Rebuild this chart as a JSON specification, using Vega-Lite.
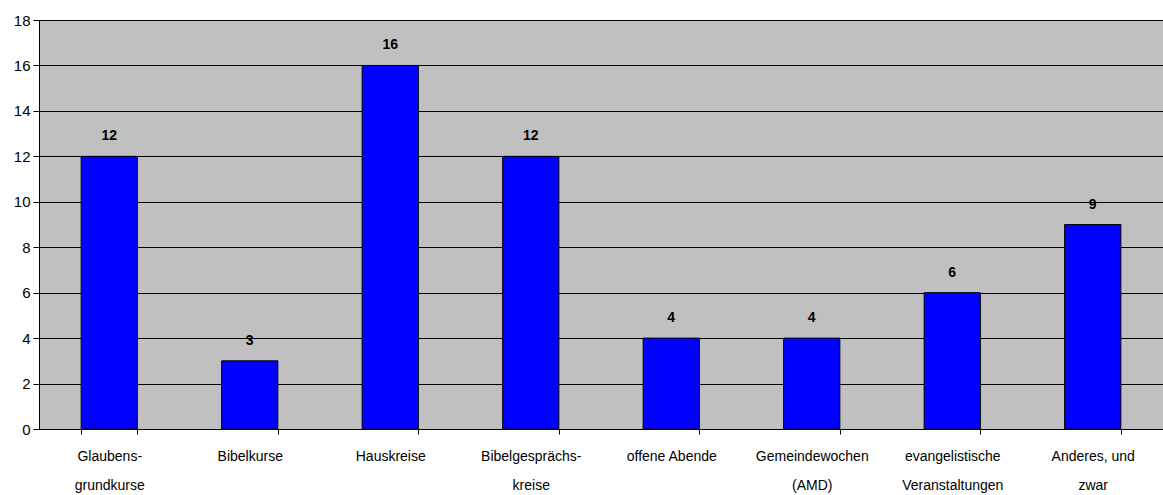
{
  "$schema": "https://vega.github.io/schema/vega-lite/v6.json",
  "width": 1124,
  "height": 409,
  "autosize": {"type": "none"},
  "padding": {"left": 39, "top": 20, "right": 0, "bottom": 66},
  "background": "white",
  "config": {
    "view": {"fill": "#C0C0C0", "stroke": null},
    "font": "Liberation Sans"
  },
  "data": {
    "values": [
      {"kategorie": "Glaubens-|grundkurse", "anzahl": 12},
      {"kategorie": "Bibelkurse", "anzahl": 3},
      {"kategorie": "Hauskreise", "anzahl": 16},
      {"kategorie": "Bibelgesprächs-|kreise", "anzahl": 12},
      {"kategorie": "offene Abende", "anzahl": 4},
      {"kategorie": "Gemeindewochen|(AMD)", "anzahl": 4},
      {"kategorie": "evangelistische|Veranstaltungen", "anzahl": 6},
      {"kategorie": "Anderes, und|zwar", "anzahl": 9}
    ]
  },
  "encoding": {
    "x": {
      "field": "kategorie",
      "type": "nominal",
      "sort": null,
      "scale": {"paddingInner": 0.6, "paddingOuter": 0.3},
      "axis": {
        "title": null,
        "labelAngle": 0,
        "labelExpr": "split(datum.label, '|')",
        "labelFontSize": 14,
        "labelColor": "black",
        "labelPadding": 15,
        "labelLineHeight": 29,
        "tickBand": "extent",
        "tickColor": "black",
        "tickSize": 5,
        "domainColor": "black",
        "labelLimit": 200
      }
    },
    "y": {
      "field": "anzahl",
      "type": "quantitative",
      "scale": {"domain": [0, 18], "nice": false},
      "axis": {
        "title": null,
        "values": [0, 2, 4, 6, 8, 10, 12, 14, 16, 18],
        "gridColor": "black",
        "gridOpacity": 1,
        "domainColor": "black",
        "tickColor": "black",
        "tickSize": 6,
        "labelFontSize": 15,
        "labelColor": "black",
        "labelPadding": 3
      }
    }
  },
  "layer": [
    {
      "mark": {"type": "bar", "color": "#0000FF", "stroke": "black", "strokeWidth": 1}
    },
    {
      "mark": {"type": "text", "baseline": "alphabetic", "dy": -16, "fontWeight": "bold", "fontSize": 14, "color": "black"},
      "encoding": {"text": {"field": "anzahl", "type": "quantitative"}}
    }
  ]
}
